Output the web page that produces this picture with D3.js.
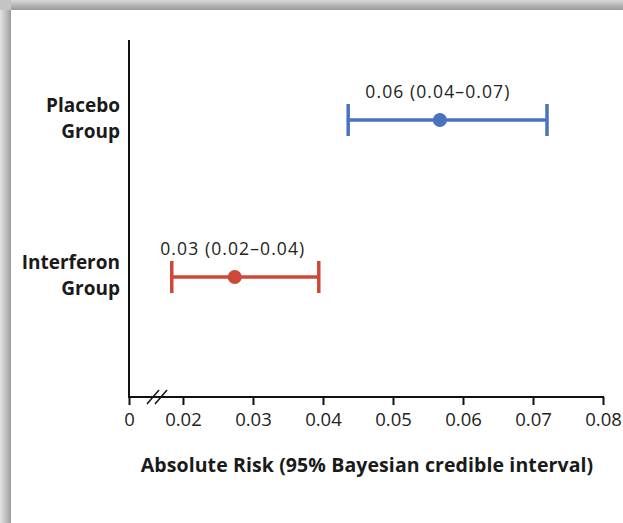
<!DOCTYPE html>
<html>
<head>
<meta charset="utf-8">
<script src="https://cdn.jsdelivr.net/npm/d3@7"></script>
<style>
  html, body { margin: 0; padding: 0; background: #fff; }
  svg { display: block; }
</style>
</head>
<body>
<svg id="chart" width="623" height="523"></svg>
<script>
// ---- data ----
const groups = ["Placebo Group", "Interferon Group"];
const groupLines = [["Placebo", "Group"], ["Interferon", "Group"]];
const estimates = [0.0567, 0.0274];
const lowers = [0.0436, 0.0184];
const uppers = [0.0720, 0.0394];
const intervalLabels = ["0.06 (0.04\u20130.07)", "0.03 (0.02\u20130.04)"];
const colors = ["#4a72be", "#ce4838"];
const tickValues = [0, 0.02, 0.03, 0.04, 0.05, 0.06, 0.07, 0.08];
const tickLabels = ["0", "0.02", "0.03", "0.04", "0.05", "0.06", "0.07", "0.08"];
const axisBreakValue = 0.01229;   // values below this are collapsed at the origin (broken axis)
const xTitle = "Absolute Risk (95% Bayesian credible interval)";

const svg = d3.select("#chart");
const W = 623, H = 523;

// frame shadow (top and left)
const defs = svg.append("defs");
const gT = defs.append("linearGradient").attr("id", "gTop").attr("x1", 0).attr("y1", 0).attr("x2", 0).attr("y2", 1);
gT.append("stop").attr("offset", "0%").attr("stop-color", "#d8d8d8");
gT.append("stop").attr("offset", "75%").attr("stop-color", "#a8a8a8");
gT.append("stop").attr("offset", "100%").attr("stop-color", "#9a9a9a");
const gL = defs.append("linearGradient").attr("id", "gLeft").attr("x1", 0).attr("y1", 0).attr("x2", 1).attr("y2", 0);
gL.append("stop").attr("offset", "0%").attr("stop-color", "#e4e4e4");
gL.append("stop").attr("offset", "75%").attr("stop-color", "#b0b0b0");
gL.append("stop").attr("offset", "100%").attr("stop-color", "#9a9a9a");
svg.append("rect").attr("x", 0).attr("y", 0).attr("width", W).attr("height", 10).attr("fill", "url(#gTop)");
svg.append("rect").attr("x", 0).attr("y", 0).attr("width", 11).attr("height", H).attr("fill", "url(#gLeft)");
svg.append("rect").attr("x", 0).attr("y", 0).attr("width", 11).attr("height", 10).attr("fill", "#c4c4c4");

// ---- scales ----
const originX = 129, rightX = 603, axisY = 397, topY = 40;
const x = d3.scaleLinear()
  .domain([0, axisBreakValue, 0.08])
  .range([originX, originX, rightX]);
const y = d3.scalePoint().domain(groups).range([120, 277]);

// ---- axes ----
svg.append("line")
  .attr("x1", originX).attr("x2", originX)
  .attr("y1", topY).attr("y2", axisY + 1)
  .attr("stroke", "#111").attr("stroke-width", 2);

const xAxis = d3.axisBottom(x)
  .tickValues(tickValues)
  .tickFormat((d, i) => tickLabels[i])
  .tickSize(8)
  .tickPadding(8)
  .tickSizeOuter(0);

const gx = svg.append("g").attr("transform", `translate(0,${axisY})`).call(xAxis);
gx.select(".domain").remove();
gx.append("line")
  .attr("x1", originX - 1).attr("x2", rightX + 1)
  .attr("y1", 0).attr("y2", 0)
  .attr("stroke", "#111").attr("stroke-width", 2);
gx.selectAll(".tick line").attr("stroke", "#111").attr("stroke-width", 2);
gx.selectAll(".tick text")
  .attr("fill", "#222")
  .attr("font-family", "'Open Sans', sans-serif")
  .attr("font-size", 18.5);

// axis break marks
const bx = 157;
[-4, 4].forEach(off => {
  svg.append("line")
    .attr("x1", bx + off - 6).attr("y1", axisY + 7)
    .attr("x2", bx + off + 6).attr("y2", axisY - 7)
    .attr("stroke", "#111").attr("stroke-width", 1.5);
});

// x title
svg.append("text")
  .attr("x", 367)
  .attr("y", 472)
  .attr("text-anchor", "middle")
  .attr("font-family", "'Open Sans', sans-serif")
  .attr("font-weight", "bold")
  .attr("font-size", 19.5)
  .attr("letter-spacing", 0.1)
  .attr("fill", "#1a1a1a")
  .text(xTitle);

// y category labels
groups.forEach((g, i) => {
  const t = svg.append("text")
    .attr("text-anchor", "end")
    .attr("font-family", "'Open Sans', sans-serif")
    .attr("font-weight", "bold")
    .attr("font-size", 19)
    .attr("fill", "#1a1a1a");
  groupLines[i].forEach((ln, j) => {
    t.append("tspan").attr("x", originX - 9).attr("y", y(g) - 8 + j * 26).text(ln);
  });
});

// ---- intervals ----
const capH = 16;
groups.forEach((g, i) => {
  const gy = y(g);
  const c = colors[i];
  svg.append("line")
    .attr("x1", x(lowers[i])).attr("x2", x(uppers[i]))
    .attr("y1", gy).attr("y2", gy)
    .attr("stroke", c).attr("stroke-width", 3.5);
  [lowers[i], uppers[i]].forEach(v => {
    svg.append("line")
      .attr("x1", x(v)).attr("x2", x(v))
      .attr("y1", gy - capH).attr("y2", gy + capH)
      .attr("stroke", c).attr("stroke-width", 3.5);
  });
  svg.append("circle")
    .attr("cx", x(estimates[i])).attr("cy", gy).attr("r", 7)
    .attr("fill", c);
  svg.append("text")
    .attr("x", x(estimates[i]) - 2)
    .attr("y", gy - 22.5)
    .attr("text-anchor", "middle")
    .attr("font-family", "'Open Sans', sans-serif")
    .attr("font-size", 17.5)
    .attr("letter-spacing", 1.1)
    .attr("fill", "#222")
    .text(intervalLabels[i]);
});
</script>
</body>
</html>
